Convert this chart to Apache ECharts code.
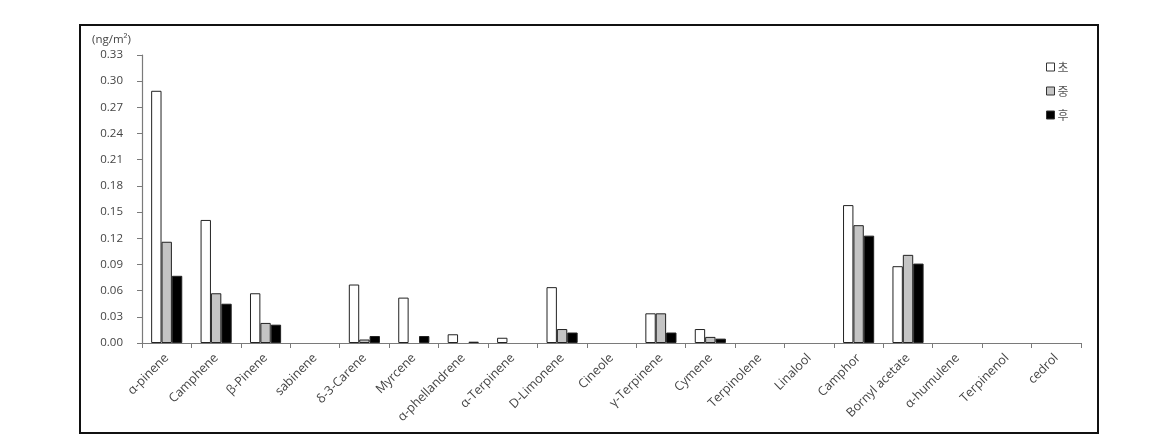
<!DOCTYPE html>
<html>
<head>
<meta charset="utf-8">
<script src="https://cdn.jsdelivr.net/npm/echarts@6/dist/echarts.min.js"></script>
<style>
html,body{margin:0;padding:0;background:#fff;}
#c{width:1174px;height:447px;}
</style>
</head>
<body>
<div id="c"></div>
<script>
const categories = ["α-pinene","Camphene","β-Pinene","sabinene","δ-3-Carene","Myrcene","α-phellandrene","α-Terpinene","D-Limonene","Cineole","γ-Terpinene","Cymene","Terpinolene","Linalool","Camphor","Bornyl acetate","α-humulene","Terpinenol","cedrol"];
const seriesNames = ["초","중","후"];
const valuesA = [0.289,0.141,0.057,0,0.067,0.052,0.010,0.006,0.064,0,0.034,0.016,0,0,0.158,0.088,0,0,0];
const valuesB = [0.116,0.057,0.023,0,0.004,0,0,0,0.016,0,0.034,0.007,0,0,0.135,0.101,0,0,0];
const valuesC = [0.077,0.045,0.021,0,0.008,0.008,0.0015,0,0.012,0,0.012,0.005,0,0,0.123,0.091,0,0,0];
const yTicks = {min:0,max:0.33,interval:0.03};
const unitLabel = "(ng/m²)";

const chart = echarts.init(document.getElementById('c'), null, {renderer:'canvas'});
const fills = ['#ffffff','#c4c4c4','#000000'];
const font = "'Open Sans','Noto Sans CJK KR',sans-serif";
chart.setOption({
  animation:false,
  backgroundColor:'#fff',
  textStyle:{fontFamily:font},
  grid:{left:142,right:93,top:55,bottom:104,containLabel:false},
  legend:{
    orient:'vertical', left:1041, top:56, itemWidth:8, itemHeight:8, itemGap:12, icon:'rect',
    itemStyle:{borderWidth:1,borderColor:'#333'},
    textStyle:{color:'#555',fontSize:12,fontFamily:"'Noto Sans CJK KR',sans-serif",padding:[0,0,0,-2]},
    data:seriesNames
  },
  xAxis:{
    type:'category', data:categories,
    axisLine:{lineStyle:{color:'#7a7a7a',width:1.2}},
    axisTick:{show:true,length:5,lineStyle:{color:'#7a7a7a'}},
    axisLabel:{rotate:45,color:'#444',fontSize:12.5,margin:13,interval:0,fontFamily:font}
  },
  yAxis:{
    type:'value', min:yTicks.min, max:yTicks.max, interval:yTicks.interval,
    splitLine:{show:false},
    axisLine:{show:true,lineStyle:{color:'#7a7a7a',width:1.2}},
    axisTick:{show:true,length:5,lineStyle:{color:'#7a7a7a'}},
    axisLabel:{color:'#444',fontSize:11.5,margin:19,formatter:v=>v.toFixed(2),fontFamily:font}
  },
  graphic:[
    {type:'rect',shape:{x:80,y:25,width:1018,height:408},style:{fill:'none',stroke:'#111',lineWidth:2},z:-1},
    {type:'text',left:92,top:34,style:{text:unitLabel,fill:'#444',font:"11.5px 'Open Sans',sans-serif"}}
  ],
  series:[valuesA,valuesB,valuesC].map((d,i)=>({
    name:seriesNames[i], type:'bar', data:d.map(v=>v===0?'-':v),
    barGap:'0%', barCategoryGap:'37%',
    itemStyle:{color:fills[i],borderColor:'#222',borderWidth:1}
  }))
});
</script>
</body>
</html>
